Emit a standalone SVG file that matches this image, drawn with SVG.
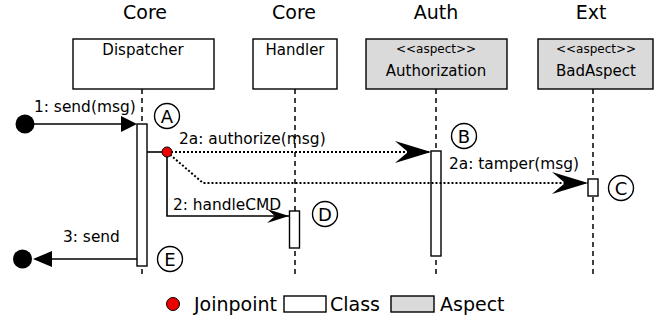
<svg xmlns="http://www.w3.org/2000/svg" width="660" height="320" viewBox="0 0 660 320">
<defs>
<style>
text{font-family:"DejaVu Sans","Liberation Sans",sans-serif;fill:#000}
.hdr{font-size:19px;text-anchor:middle}
.lbl{font-size:15px;text-anchor:middle}
.ster{font-size:12px;text-anchor:middle}
.msg{font-size:15.4px}
.leg{font-size:19px}
.cls{fill:#fff;stroke:#000;stroke-width:1.4}
.asp{fill:#dadada;stroke:#000;stroke-width:1.4}
.life{stroke:#000;stroke-width:1.5;stroke-dasharray:5 4;fill:none}
.act{fill:#fff;stroke:#000;stroke-width:1.4}
.solid{stroke:#000;stroke-width:1.6;fill:none}
.dot{stroke:#000;stroke-width:2;stroke-dasharray:2 2;fill:none}
.mark{fill:#fff;stroke:#000;stroke-width:1.4}
.mtext{font-size:18px;text-anchor:middle}
</style>
<marker id="stealth" markerUnits="userSpaceOnUse" markerWidth="40" markerHeight="24" refX="36" refY="11" orient="auto">
<path d="M0,0 L36,11 L0,22 L13,11 Z" fill="#000"/>
</marker>
<marker id="stealthS" markerUnits="userSpaceOnUse" markerWidth="26" markerHeight="16" refX="22" refY="7" orient="auto">
<path d="M0,0 L22,7 L0,14 L8,7 Z" fill="#000"/>
</marker>
</defs>

<g id="headers">
<text class="hdr" x="145" y="19">Core</text>
<text class="hdr" x="294" y="19">Core</text>
<text class="hdr" x="436" y="19">Auth</text>
<text class="hdr" x="591" y="19">Ext</text>
</g>

<g id="dispatcher">
<rect class="cls" x="73" y="39" width="141" height="50"/>
<text class="lbl" x="143" y="55">Dispatcher</text>
<line class="life" x1="142" y1="89" x2="142" y2="276"/>
<rect class="act" x="137" y="124" width="10" height="142"/>
</g>

<g id="handler">
<rect class="cls" x="253" y="39" width="84" height="50"/>
<text class="lbl" x="295" y="55">Handler</text>
<line class="life" x1="295" y1="89" x2="295" y2="276"/>
<rect class="act" x="289.5" y="211" width="10" height="37"/>
</g>

<g id="authorization">
<rect class="asp" x="366" y="39" width="141" height="50"/>
<text class="ster" x="436" y="53">&lt;&lt;aspect&gt;&gt;</text>
<text class="lbl" x="436" y="76">Authorization</text>
<line class="life" x1="436" y1="89" x2="436" y2="276"/>
<rect class="act" x="431" y="151" width="10" height="105"/>
</g>

<g id="badaspect">
<rect class="asp" x="538" y="39" width="115" height="50"/>
<text class="ster" x="596" y="53">&lt;&lt;aspect&gt;&gt;</text>
<text class="lbl" x="596" y="76">BadAspect</text>
<line class="life" x1="593" y1="89" x2="593" y2="276"/>
<rect class="act" x="588" y="179" width="10" height="17"/>
</g>

<g id="connectors">
<circle cx="25" cy="124" r="9.5" fill="#000"/>
<line class="solid" x1="25" y1="124" x2="122" y2="124"/>
<polygon points="121,116 137,124 121,132" fill="#000"/>
<text class="msg" x="34" y="112">1: send(msg)</text>

<line class="solid" x1="147" y1="152" x2="162" y2="152"/>
<path class="dot" d="M167,152 L431,152" marker-end="url(#stealth)"/>
<text class="msg" x="179" y="144">2a: authorize(msg)</text>

<path class="dot" d="M167,152 L203,183 L588,183" marker-end="url(#stealth)"/>
<text class="msg" x="449" y="169">2a: tamper(msg)</text>

<path class="solid" d="M167,152 L167,216 L289,216" marker-end="url(#stealthS)"/>
<text class="msg" x="173" y="210">2: handleCMD</text>

<line class="solid" x1="137" y1="259" x2="50" y2="259"/>
<polygon points="52,251 33,259 52,267" fill="#000"/>
<circle cx="22.5" cy="259" r="9.5" fill="#000"/>
<text class="msg" x="63" y="242">3: send</text>

<circle cx="167" cy="152" r="5" fill="#e00" stroke="#000" stroke-width="1"/>
</g>

<g id="markers">
<circle class="mark" cx="167" cy="116" r="12.5"/>
<text class="mtext" x="167" y="122.5">A</text>
<circle class="mark" cx="464" cy="136" r="12.5"/>
<text class="mtext" x="464" y="142.5">B</text>
<circle class="mark" cx="621" cy="188" r="12.5"/>
<text class="mtext" x="621" y="194.5">C</text>
<circle class="mark" cx="325" cy="214" r="12.5"/>
<text class="mtext" x="325" y="220.5">D</text>
<circle class="mark" cx="170" cy="259" r="12.5"/>
<text class="mtext" x="170" y="265.5">E</text>
</g>

<g id="legend">
<circle cx="173" cy="304" r="6.5" fill="#e00" stroke="#000" stroke-width="1"/>
<text class="leg" x="194" y="311">Joinpoint</text>
<rect class="cls" x="284" y="296" width="42" height="16"/>
<text class="leg" x="330" y="311">Class</text>
<rect class="asp" x="391" y="296" width="43" height="16"/>
<text class="leg" x="440" y="311">Aspect</text>
</g>
</svg>
